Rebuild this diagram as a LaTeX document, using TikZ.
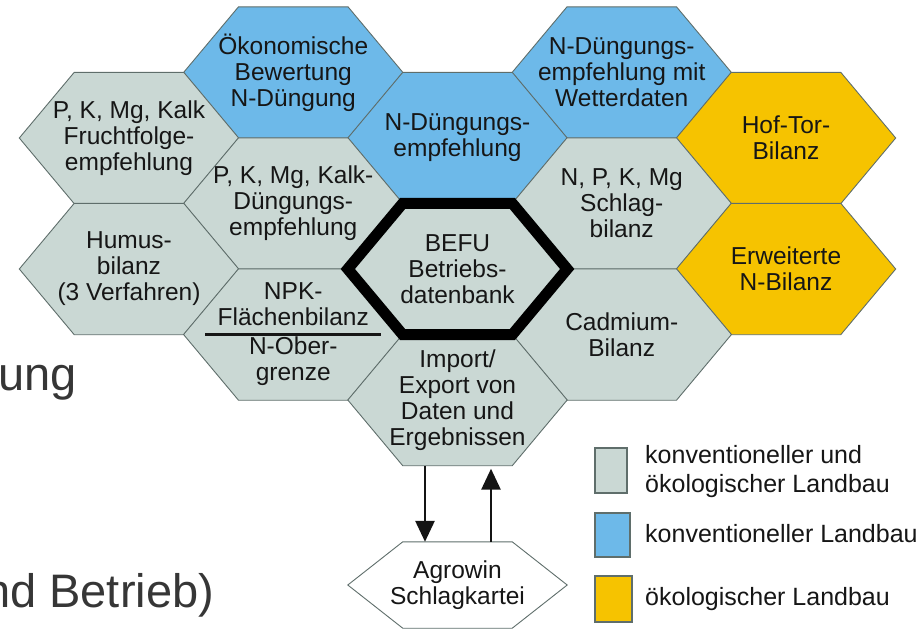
\documentclass[tikz,border=0pt]{standalone}
\usepackage{fontspec}
\setmainfont{Liberation Sans}
\usetikzlibrary{arrows.meta}
\pgfdeclarelayer{bg}
\pgfsetlayers{bg,main}

\definecolor{hexgray}{HTML}{CAD8D4}
\definecolor{hexblue}{HTML}{6DB9E9}
\definecolor{hexyellow}{HTML}{F6C300}
\definecolor{hexline}{HTML}{5F6E6B}
\definecolor{txt}{HTML}{161616}
\definecolor{bigtxt}{HTML}{363636}

\newcommand\hexshape[2]{%
  \begin{pgfonlayer}{bg}
    \path[draw=hexline, line width=0.9pt, line join=miter, fill=#2]
      (#1.west) -- ([xshift=-54.75pt]#1.north) -- ([xshift=54.75pt]#1.north)
      -- (#1.east) -- ([xshift=54.75pt]#1.south) -- ([xshift=-54.75pt]#1.south) -- cycle;
  \end{pgfonlayer}}

\begin{document}
\begin{tikzpicture}[x=1pt, y=-1pt,
  hexnode/.style={rectangle, inner sep=0pt, minimum width=219pt, minimum height=131pt,
    align=center, text=txt, font=\fontsize{24.5}{26}\selectfont},
  legtext/.style={anchor=base west, inner sep=0pt, text=txt, font=\fontsize{25}{29}\selectfont},
  legbox/.style={draw=hexline, line width=1.2pt, inner sep=0pt},
  bigtext/.style={anchor=base west, inner sep=0pt, text=bigtxt, font=\fontsize{47}{56}\selectfont},
  arr/.style={draw=black!92, line width=2.8pt, -{Triangle[width=19pt,length=21pt]}}
]
\useasboundingbox (0,0) rectangle (919,630);

% hexagon nodes
\node[hexnode] (oek) at (293.25,72.5) {Ökonomische\\Bewertung\\N-Düngung};
\node[hexnode] (wet) at (621.75,72.5) {N-Düngungs-\\empfehlung mit\\Wetterdaten};
\node[hexnode] (fru) at (129,138) {P, K, Mg, Kalk\\Fruchtfolge-\\empfehlung};
\node[hexnode] (ndu) at (457.5,138) {N-Düngungs-\\empfehlung};
\node[hexnode] (hof) at (786,138) {Hof-Tor-\\Bilanz};
\node[hexnode] (pkd) at (293.25,203.5) {P, K, Mg, Kalk-\\Düngungs-\\empfehlung};
\node[hexnode] (npkm) at (621.75,203.5) {N, P, K, Mg\\Schlag-\\bilanz};
\node[hexnode] (hum) at (129,269) {Humus-\\bilanz\\(3 Verfahren)};
\node[hexnode] (befu) at (457.5,269) {BEFU\\Betriebs-\\datenbank};
\node[hexnode] (erw) at (786,269) {Erweiterte\\N-Bilanz};
\node[hexnode] (npk) at (293.25,334.5) {NPK-\\Flächenbilanz\\[3pt]N-Ober-\\grenze};
\node[hexnode] (cad) at (621.75,334.5) {Cadmium-\\Bilanz};
\node[hexnode] (imp) at (457.5,400) {Import/\\Export von\\Daten und\\Ergebnissen};
\node[hexnode, minimum height=86pt] (agr) at (457.5,585) {Agrowin\\Schlagkartei};

\hexshape{oek}{hexblue}
\hexshape{wet}{hexblue}
\hexshape{fru}{hexgray}
\hexshape{ndu}{hexblue}
\hexshape{hof}{hexyellow}
\hexshape{pkd}{hexgray}
\hexshape{npkm}{hexgray}
\hexshape{hum}{hexgray}
\hexshape{befu}{hexgray}
\hexshape{erw}{hexyellow}
\hexshape{npk}{hexgray}
\hexshape{cad}{hexgray}
\hexshape{imp}{hexgray}
\hexshape{agr}{white}

% thick BEFU outline
\begin{pgfonlayer}{bg}
  \path[draw=black, line width=11pt, line join=miter]
    (befu.west) -- ([xshift=-54.75pt]befu.north) -- ([xshift=54.75pt]befu.north)
    -- (befu.east) -- ([xshift=54.75pt]befu.south) -- ([xshift=-54.75pt]befu.south) -- cycle;
\end{pgfonlayer}

% NPK separator line
\draw[line width=3pt, draw=txt] ([xshift=-88pt]npk.center) -- ([xshift=88pt]npk.center);

% arrows
\draw[arr] ([xshift=-32.5pt]imp.south) -- ([xshift=-32.5pt]agr.north);
\draw[arr, shorten >=3pt] ([xshift=33.5pt]agr.north) -- ([xshift=33.5pt]imp.south);

% legend
\node[legbox, fill=hexgray, minimum width=32pt, minimum height=45pt] (lg1) at (611,470.5) {};
\node[legbox, fill=hexblue, minimum width=35pt, minimum height=44pt] (lg2) at (612.5,535) {};
\node[legbox, fill=hexyellow, minimum width=37pt, minimum height=46pt] (lg3) at (613.5,599) {};
\node[legtext] (lt1a) at (645,463) {konventioneller und};
\node[legtext] (lt1b) at (645,492) {ökologischer Landbau};
\node[legtext] (lt2) at (645,542) {konventioneller Landbau};
\node[legtext] (lt3) at (645,605) {ökologischer Landbau};

% cut-off slide text (cut at the left edge as in the reference)
\node[bigtext] (big1) at (-2,390) {ung};
\node[bigtext] (big2) at (-16,607) {nd Betrieb)};
\end{tikzpicture}
\end{document}
